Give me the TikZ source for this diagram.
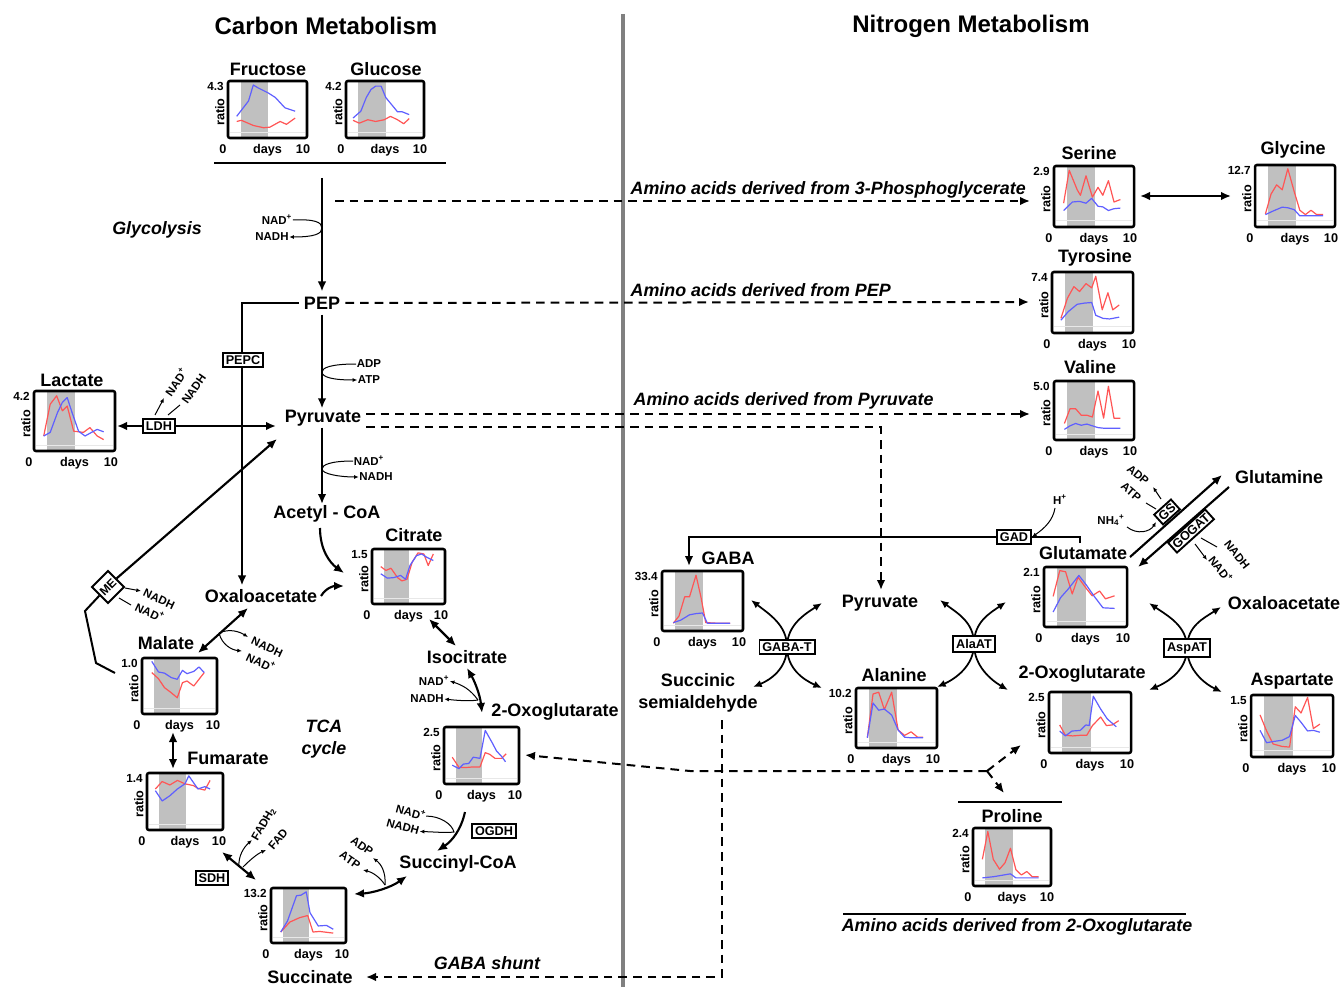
\documentclass[tikz,border=0pt]{standalone}
\usepackage{fontspec}
\setmainfont{Liberation Sans}
\usetikzlibrary{arrows.meta}
\definecolor{redc}{RGB}{255,85,85}
\definecolor{bluec}{RGB}{95,95,255}
\definecolor{bandc}{RGB}{192,192,192}
\definecolor{divc}{RGB}{128,128,128}
\tikzset{
 met/.style={font=\fontsize{13.5}{16}\selectfont\bfseries, inner sep=1pt},
 ttl/.style={font=\fontsize{18}{21}\selectfont\bfseries},
 itl/.style={font=\fontsize{13.4}{16}\selectfont\bfseries\itshape, inner sep=1pt},
 sml/.style={font=\fontsize{8.6}{10}\selectfont\bfseries, inner sep=0.3pt},
 enz/.style={draw, line width=1.4pt, fill=white, font=\fontsize{9.5}{11}\selectfont\bfseries, inner sep=2.2pt},
 axl/.style={font=\fontsize{9.5}{11}\selectfont\bfseries, inner sep=0pt},
 maxl/.style={font=\fontsize{8.8}{10}\selectfont\bfseries, inner sep=0pt},
 mainln/.style={line width=1.6pt},
 arr/.style={mainln, -{Latex[length=7.5pt,width=6.5pt]}},
 darr/.style={mainln, {Latex[length=7.5pt,width=6.5pt]}-{Latex[length=7.5pt,width=6.5pt]}},
 xarr/.style={line width=1.3pt, {Latex[length=6.5pt,width=5.5pt]}-{Latex[length=6.5pt,width=5.5pt]}},
 dsh/.style={line width=1.5pt, dash pattern=on 6.5pt off 4.5pt, -{Latex[length=7.5pt,width=6.5pt]}},
 thinarr/.style={line width=0.75pt, -{Latex[length=3.5pt,width=3pt]}},
 thinln/.style={line width=0.75pt},
 chartframe/.style={line width=1.9pt, rounded corners=1.5pt},
 redln/.style={redc, line width=0.9pt, line join=round},
 blueln/.style={bluec, line width=0.9pt, line join=round},
}
% #1 name, #2 x, #3 y (top), #4 w, #5 h, #6 max label, #7 red, #8 blue
\newcommand{\minichart}[8]{%
 \node[inner sep=0pt, outer sep=0pt, minimum width=#4*0.75pt, minimum height=#5*0.75pt, anchor=north west] (#1) at (#2,#3) {};
 \begin{scope}[shift={(#2,#3+#5)}, x={(#4,0)}, y={(0,-#5)}]
  \fill[bandc] (0.16,0) rectangle (0.51,1);
  \draw[gray!18, line width=0.6pt] (0.03,0.1) -- (0.97,0.1);
  \draw[redln] plot coordinates {#7};
  \draw[blueln] plot coordinates {#8};
  \draw[chartframe] (0,0) rectangle (1,1);
  \node[maxl, anchor=east, xshift=-3pt, yshift=-4pt] at (0,1) {#6};
  \node[axl, xshift=-2.5pt, yshift=-2pt, rotate=90, anchor=south] at (0,0.5) {ratio};
  \node[axl, anchor=base, xshift=-3.8pt, yshift=-11.8pt] at (0,0) {0};
  \node[axl, anchor=base, yshift=-11.8pt] at (0.5,0) {days};
  \node[axl, anchor=base, xshift=-3pt, yshift=-11.8pt] at (1,0) {10};
 \end{scope}}
\begin{document}
\begin{tikzpicture}[x=0.75pt,y=-0.75pt]
\useasboundingbox[fill=white] (0,0) rectangle (1341,987);

% ---------- titles and divider
\node[ttl] (tC) at (326,26) {Carbon Metabolism};
\node[ttl] (tN) at (971,26) {Nitrogen Metabolism};
\coordinate (divT) at (623,14);
\coordinate (divB) at (623,987);
\draw[line width=2.4pt, divc] (divT) -- (divB);

% ---------- charts
\minichart{fruC}{228}{81}{79}{57}{4.3}{(0.11,0.29) (0.17,0.31) (0.32,0.22) (0.45,0.18) (0.53,0.19) (0.66,0.29) (0.74,0.24) (0.85,0.35)}{(0.11,0.38) (0.26,0.65) (0.32,0.93) (0.38,0.88) (0.51,0.79) (0.60,0.71) (0.72,0.53) (0.85,0.47)}
\minichart{glcC}{346}{81}{78}{57}{4.2}{(0.09,0.31) (0.17,0.26) (0.28,0.32) (0.38,0.29) (0.49,0.32) (0.57,0.38) (0.66,0.32) (0.74,0.25) (0.81,0.34)}{(0.09,0.35) (0.19,0.47) (0.26,0.71) (0.32,0.85) (0.38,0.91) (0.45,0.91) (0.51,0.71) (0.66,0.46) (0.72,0.46) (0.81,0.41)}
\minichart{lacC}{34}{391}{81}{60}{4.2}{(0.12,0.25) (0.20,0.78) (0.28,0.92) (0.35,0.67) (0.41,0.75) (0.49,0.33) (0.61,0.31) (0.69,0.39) (0.78,0.25) (0.86,0.19)}{(0.12,0.25) (0.20,0.31) (0.29,0.64) (0.35,0.81) (0.41,0.89) (0.47,0.64) (0.55,0.33) (0.63,0.25) (0.71,0.31) (0.78,0.36) (0.86,0.32)}
\minichart{citC}{372}{549}{73}{55}{1.5}{(0.12,0.68) (0.19,0.61) (0.26,0.65) (0.35,0.48) (0.41,0.42) (0.48,0.45) (0.55,0.76) (0.63,0.93) (0.71,0.91) (0.77,0.70) (0.84,0.91)}{(0.12,0.55) (0.21,0.47) (0.30,0.48) (0.39,0.52) (0.46,0.45) (0.52,0.70) (0.61,0.88) (0.68,0.91) (0.75,0.85) (0.84,0.79)}
\minichart{malC}{142}{658}{75}{56}{1.0}{(0.13,0.74) (0.22,0.63) (0.30,0.47) (0.39,0.38) (0.47,0.29) (0.54,0.56) (0.60,0.59) (0.69,0.50) (0.76,0.62) (0.83,0.74)}{(0.13,0.94) (0.22,0.75) (0.30,0.73) (0.39,0.65) (0.47,0.62) (0.54,0.78) (0.60,0.72) (0.69,0.76) (0.76,0.84) (0.83,0.74)}
\minichart{fumC}{147}{773}{76}{57}{1.4}{(0.11,0.72) (0.20,0.85) (0.30,0.79) (0.40,0.87) (0.50,0.81) (0.61,0.78) (0.67,0.73) (0.76,0.70) (0.83,0.87)}{(0.11,0.69) (0.20,0.51) (0.30,0.60) (0.40,0.72) (0.50,0.81) (0.55,0.95) (0.67,0.72) (0.76,0.76) (0.83,0.72)}
\minichart{sucC}{271}{888}{75}{55}{13.2}{(0.13,0.20) (0.25,0.38) (0.38,0.46) (0.49,0.50) (0.56,0.20) (0.65,0.21) (0.83,0.18)}{(0.13,0.20) (0.22,0.40) (0.34,0.86) (0.40,0.87) (0.47,0.93) (0.52,0.55) (0.63,0.31) (0.74,0.32) (0.83,0.25)}
\minichart{ogtC}{444}{727}{75}{57}{2.5}{(0.11,0.47) (0.20,0.29) (0.30,0.29) (0.39,0.30) (0.48,0.30) (0.55,0.55) (0.61,0.52) (0.68,0.45) (0.77,0.45) (0.83,0.53)}{(0.11,0.33) (0.20,0.27) (0.26,0.35) (0.33,0.36) (0.39,0.47) (0.48,0.45) (0.55,0.94) (0.64,0.73) (0.70,0.58) (0.77,0.48) (0.82,0.39)}
\minichart{serC}{1054}{166}{80}{61}{2.9}{(0.12,0.39) (0.19,0.93) (0.29,0.61) (0.33,0.52) (0.40,0.84) (0.48,0.49) (0.55,0.65) (0.61,0.52) (0.68,0.76) (0.75,0.41) (0.83,0.45)}{(0.12,0.27) (0.23,0.41) (0.32,0.42) (0.40,0.39) (0.47,0.47) (0.55,0.34) (0.61,0.33) (0.68,0.27) (0.75,0.30) (0.83,0.31)}
\minichart{glyC}{1255}{165}{80}{62}{12.7}{(0.13,0.21) (0.20,0.53) (0.27,0.68) (0.34,0.60) (0.41,0.94) (0.49,0.57) (0.56,0.27) (0.63,0.20) (0.70,0.27) (0.77,0.20) (0.85,0.20)}{(0.13,0.20) (0.23,0.26) (0.34,0.32) (0.41,0.31) (0.49,0.28) (0.56,0.18) (0.63,0.18) (0.77,0.18) (0.85,0.18)}
\minichart{tyrC}{1052}{272}{81}{61}{7.4}{(0.11,0.24) (0.19,0.57) (0.27,0.76) (0.34,0.68) (0.42,0.81) (0.49,0.74) (0.54,0.93) (0.62,0.38) (0.69,0.66) (0.75,0.38) (0.83,0.46)}{(0.11,0.21) (0.20,0.35) (0.31,0.47) (0.40,0.49) (0.49,0.50) (0.54,0.29) (0.63,0.24) (0.71,0.23) (0.83,0.26)}
\minichart{valC}{1054}{381}{80}{59}{5.0}{(0.13,0.28) (0.20,0.53) (0.27,0.53) (0.34,0.42) (0.41,0.42) (0.48,0.39) (0.55,0.83) (0.62,0.37) (0.68,0.91) (0.75,0.37) (0.83,0.37)}{(0.13,0.18) (0.20,0.24) (0.27,0.28) (0.34,0.25) (0.41,0.27) (0.48,0.24) (0.55,0.21) (0.62,0.20) (0.83,0.20)}
\minichart{gabC}{662}{571}{81}{60}{33.4}{(0.14,0.13) (0.21,0.25) (0.28,0.57) (0.34,0.57) (0.42,0.93) (0.48,0.57) (0.54,0.14) (0.68,0.13) (0.84,0.13)}{(0.14,0.14) (0.23,0.18) (0.34,0.27) (0.42,0.29) (0.50,0.30) (0.56,0.13) (0.84,0.13)}
\minichart{alaC}{856}{688}{81}{60}{10.2}{(0.14,0.17) (0.21,0.90) (0.28,0.93) (0.35,0.64) (0.44,0.93) (0.52,0.30) (0.60,0.21) (0.68,0.27) (0.76,0.18) (0.83,0.18)}{(0.14,0.17) (0.21,0.75) (0.28,0.63) (0.35,0.65) (0.44,0.55) (0.52,0.30) (0.60,0.18) (0.68,0.17) (0.83,0.17)}
\minichart{gluC}{1044}{567}{83}{60}{2.1}{(0.11,0.51) (0.19,0.94) (0.26,0.92) (0.34,0.55) (0.41,0.83) (0.50,0.66) (0.58,0.52) (0.67,0.60) (0.74,0.47) (0.85,0.52)}{(0.11,0.25) (0.20,0.49) (0.29,0.63) (0.42,0.86) (0.51,0.70) (0.60,0.52) (0.71,0.32) (0.85,0.31)}
\minichart{ognC}{1049}{692}{82}{61}{2.5}{(0.13,0.46) (0.20,0.29) (0.29,0.28) (0.38,0.29) (0.46,0.29) (0.53,0.45) (0.63,0.59) (0.70,0.45) (0.77,0.46) (0.85,0.53)}{(0.13,0.36) (0.20,0.28) (0.28,0.36) (0.38,0.37) (0.45,0.46) (0.49,0.45) (0.54,0.93) (0.63,0.72) (0.71,0.56) (0.82,0.43)}
\minichart{aspC}{1251}{695}{82}{62}{1.5}{(0.11,0.68) (0.19,0.42) (0.27,0.21) (0.38,0.17) (0.47,0.16) (0.54,0.81) (0.61,0.71) (0.69,0.96) (0.76,0.46) (0.84,0.53)}{(0.11,0.43) (0.19,0.23) (0.27,0.25) (0.38,0.27) (0.47,0.33) (0.54,0.67) (0.61,0.56) (0.69,0.42) (0.76,0.43) (0.84,0.40)}
\minichart{proC}{973}{828}{78}{58}{2.4}{(0.12,0.46) (0.19,0.94) (0.26,0.46) (0.34,0.29) (0.41,0.40) (0.48,0.65) (0.55,0.28) (0.62,0.19) (0.69,0.25) (0.76,0.16) (0.84,0.16)}{(0.12,0.14) (0.26,0.16) (0.35,0.18) (0.48,0.21) (0.55,0.14) (0.84,0.14)}

% ---------- carbon metabolism labels
\node[met] (fru) at (268,69) {Fructose};
\node[met] (glc) at (386,69) {Glucose};
\node[met, outer sep=3pt] (pep) at (322,303) {PEP};
\node[met] (pyr) at (323,418) {Pyruvate};
\node[met] (acoa) at (327,514) {Acetyl - CoA};
\node[met] (lac) at (72,380) {Lactate};
\node[met] (cit) at (414,535) {Citrate};
\node[met, outer sep=2pt] (oaa) at (261,596) {Oxaloacetate};
\node[met] (mal) at (166,643) {Malate};
\node[met] (fum) at (228,758) {Fumarate};
\node[met] (iso) at (467,657) {Isocitrate};
\node[met] (ogt) at (555,712) {2-Oxoglutarate};
\node[met] (sca) at (458,864) {Succinyl-CoA};
\node[met] (suc) at (310,977) {Succinate};
\node[itl] (glyc) at (157,230) {Glycolysis};
\node[itl, align=center] (tca) at (324,739) {TCA\\cycle};
\node[itl] (gshunt) at (487,963) {GABA shunt};

% hexoses bar and glycolysis
\coordinate (hexL) at (214,163);
\coordinate (hexR) at (446,163);
\draw[line width=1.5pt] (hexL) -- (hexR);
\coordinate (glyS) at (322,178);
\draw[arr] (glyS) -- (pep.north);
\node[sml] (gn1) at (277,220) {NAD\textsuperscript{+}};
\node[sml] (gn2) at (272,237) {NADH};
\draw[thinarr] (gn1.east) .. controls (314,219) and (322,222) .. (322,228) .. controls (322,234) and (314,237) .. (gn2.east);

% PEP -> pyruvate
\draw[arr] (pep.south) -- (pep.south |- pyr.north);
\node[sml] (adp1) at (369,364) {ADP};
\node[sml] (atp1) at (369,380) {ATP};
\draw[thinarr] (adp1.west) .. controls (330,364) and (322,368) .. (322,372) .. controls (322,377) and (332,380) .. (atp1.west);

% PEPC
\coordinate (pepcT) at (242,303);
\draw[arr] (pep.west) -- (pepcT) -- (pepcT |- oaa.north);
\node[enz] (pepc) at (243,360) {PEPC};

% pyruvate -> acetyl-CoA
\draw[arr] (pyr.south -| pep.south) -- (pep.south |- acoa.north);
\node[sml] (an1) at (369,461) {NAD\textsuperscript{+}};
\node[sml] (an2) at (376,477) {NADH};
\draw[thinarr] (an1.west) .. controls (330,461) and (322,465) .. (322,469) .. controls (322,474) and (340,477) .. (an2.west);

% LDH
\node[enz] (ldh) at (159,426) {LDH};
\coordinate (ldhR) at (276,426);
\coordinate (ldhL) at (117,426);
\draw[arr] (ldh.east) -- (ldhR);
\draw[arr] (ldh.west) -- (ldhL);
\coordinate (l1a) at (155,415);
\coordinate (l1b) at (164,398);
\coordinate (l2a) at (168,415);
\coordinate (l2b) at (180,405);
\draw[thinarr] (l1a) -- (l1b);
\draw[thinln] (l2a) -- (l2b);
\node[sml, rotate=55] (ln1) at (176,382) {NAD\textsuperscript{+}};
\node[sml, rotate=55] (ln2) at (194,389) {NADH};

% acetyl-CoA / OAA -> citrate
\coordinate (acS) at (320,528);
\coordinate (acE) at (344,573);
\draw[arr] (acS) .. controls (320,550) and (330,563) .. (acE);
\coordinate (oaE) at (344,586);
\draw[arr] (oaa.east) .. controls (326,588) and (333,586) .. (oaE);

% ME
\node[draw, line width=1.4pt, fill=white, rotate=45, minimum width=17pt, minimum height=17pt, inner sep=0pt, font=\fontsize{9}{10}\selectfont\bfseries] (me) at (108,587) {ME};
\coordinate (meP) at (277,439);
\draw[arr] (me.east) -- (meP);
\coordinate (mk1) at (85,611);
\coordinate (mk2) at (96,663);
\coordinate (mk3) at (115,673);
\draw[line width=1.5pt] (me.west) -- (mk1) -- (mk2) -- (mk3);
\coordinate (mn1a) at (125,588);
\coordinate (mn1b) at (141,591);
\coordinate (mn2a) at (119,598);
\coordinate (mn2b) at (131,605);
\draw[thinarr] (mn1a) -- (mn1b);
\draw[thinln] (mn2a) -- (mn2b);
\node[sml, rotate=-25] (mnl1) at (159,599) {NADH};
\node[sml, rotate=-25] (mnl2) at (150,612) {NAD\textsuperscript{+}};

% malate <-> OAA
\coordinate (moA) at (248,608);
\coordinate (moB) at (198,653);
\draw[darr] (moA) -- (moB);
\coordinate (moc) at (219,633);
\coordinate (mo1) at (248,637);
\coordinate (mo2) at (242,651);
\draw[thinarr] (moc) .. controls (230,628) and (240,632) .. (mo1);
\draw[thinarr] (moc) .. controls (222,645) and (232,650) .. (mo2);
\node[sml, rotate=-25] (mol1) at (267,647) {NADH};
\node[sml, rotate=-25] (mol2) at (261,662) {NAD\textsuperscript{+}};

% malate <-> fumarate
\coordinate (mfA) at (173,732);
\coordinate (mfB) at (173,769);
\draw[darr] (mfA) -- (mfB);

% SDH
\coordinate (sdA) at (222,852);
\coordinate (sdB) at (256,880);
\draw[darr] (sdA) -- (sdB);
\node[enz] (sdh) at (212,878) {SDH};
\coordinate (sdc1) at (239,867);
\coordinate (sdc2) at (243,867);
\coordinate (sdf1) at (252,840);
\coordinate (sdf2) at (266,850);
\draw[thinarr] (sdc1) .. controls (238,856) and (244,847) .. (sdf1);
\draw[thinarr] (sdc2) .. controls (250,860) and (257,854) .. (sdf2);
\node[sml, rotate=60] (fadh) at (264,824) {FADH\textsubscript{2}};
\node[sml, rotate=50] (fad) at (278,839) {FAD};

% succinyl-CoA <-> succinate
\coordinate (ssA) at (407,876);
\coordinate (ssB) at (354,894);
\draw[darr] (ssA) .. controls (390,888) and (372,893) .. (ssB);
\coordinate (sac) at (385,885);
\coordinate (sa1) at (373,858);
\coordinate (sa2) at (363,870);
\draw[thinarr] (sac) .. controls (386,872) and (381,864) .. (sa1);
\draw[thinarr] (sac) .. controls (380,877) and (372,872) .. (sa2);
\node[sml, rotate=-35] (sadp) at (362,846) {ADP};
\node[sml, rotate=-35] (satp) at (350,860) {ATP};

% OGDH
\coordinate (ogA) at (465,812);
\coordinate (ogB) at (437,851);
\draw[arr] (ogA) .. controls (461,830) and (452,841) .. (ogB);
\node[enz] (ogdh) at (494,831) {OGDH};
\node[sml, rotate=-15] (on1) at (411,812) {NAD\textsuperscript{+}};
\node[sml, rotate=-15] (on2) at (403,827) {NADH};
\draw[thinarr] (on1.east) .. controls (440,816) and (452,824) .. (454,832) .. controls (446,833) and (436,832) .. (on2.east);

% citrate <-> isocitrate <-> 2-OG
\coordinate (ciA) at (429,619);
\coordinate (ciB) at (456,646);
\draw[darr] (ciA) -- (ciB);
\coordinate (ioA) at (467,668);
\coordinate (ioB) at (482,713);
\draw[darr] (ioA) .. controls (475,682) and (480,695) .. (ioB);
\node[sml] (in1) at (434,681) {NAD\textsuperscript{+}};
\node[sml] (in2) at (427,699) {NADH};
\coordinate (inc) at (478,700);
\draw[thinarr] (inc) .. controls (470,689) and (462,685) .. (in1.east);
\draw[thinarr] (inc) .. controls (472,701) and (462,701) .. (in2.east);

% ---------- long dashed connectors
\coordinate (pgS) at (335,201);
\coordinate (pgE) at (1030,201);
\draw[dsh] (pgS) -- (pgE);
\node[itl, anchor=west] (pglbl) at (629,190) {Amino acids derived from 3-Phosphoglycerate};
\coordinate (pepE) at (1029,302);
\draw[dsh] (pep.east) -- (pepE);
\node[itl, anchor=west] (peplbl) at (629,290) {Amino acids derived from PEP};
\coordinate (pyS1) at (366,414);
\coordinate (pyE1) at (1030,414);
\draw[dsh] (pyS1) -- (pyE1);
\node[itl, anchor=west] (pylbl) at (632,401) {Amino acids derived from Pyruvate};
\node[met] (pyrN) at (880,603) {Pyruvate};
\coordinate (pyS2) at (366,427);
\coordinate (pyK) at (881,427);
\coordinate (pyE2) at (881,590);
\draw[dsh] (pyS2) -- (pyK) -- (pyE2);

\coordinate (ogX) at (987,771);
\coordinate (ogK) at (690,771);
\coordinate (ogE) at (525,755);
\coordinate (ogU) at (1021,745);
\coordinate (ogD) at (1004,793);
\draw[dsh] (ogX) -- (ogK) -- (ogE);
\draw[dsh] (ogX) -- (ogU);
\draw[dsh] (ogX) -- (ogD);

\node[met, align=center] (ssa) at (698,693) {Succinic\\semialdehyde};
\coordinate (gsT) at (722,720);
\coordinate (gsK) at (722,977);
\coordinate (gsE) at (366,977);
\draw[dsh] (gsT) -- (gsK) -- (gsE);

% ---------- nitrogen metabolism labels
\node[met] (ser) at (1089,153) {Serine};
\node[met] (gly) at (1293,150) {Glycine};
\node[met] (tyr) at (1095,258) {Tyrosine};
\node[met] (val) at (1090,367) {Valine};
\node[met] (gaba) at (728,558) {GABA};
\node[met] (glu) at (1083,553) {Glutamate};
\node[met] (gln) at (1279,477) {Glutamine};
\node[met] (oaaN) at (1284,603) {Oxaloacetate};
\node[met] (ala) at (894,675) {Alanine};
\node[met] (ogN) at (1082,674) {2-Oxoglutarate};
\node[met] (asp) at (1292,681) {Aspartate};
\node[met] (pro) at (1012,816) {Proline};

\coordinate (sgA) at (1140,196);
\coordinate (sgB) at (1231,196);
\draw[darr] (sgA) -- (sgB);

% proline bars
\coordinate (prL) at (958,802);
\coordinate (prR) at (1062,802);
\draw[line width=1.5pt] (prL) -- (prR);
\coordinate (aoL) at (843,914);
\coordinate (aoR) at (1186,914);
\draw[line width=1.5pt] (aoL) -- (aoR);
\node[itl] (aolbl) at (1017,927) {Amino acids derived from 2-Oxoglutarate};

% GAD
\coordinate (gd1) at (1080,543);
\coordinate (gd2) at (1080,537);
\coordinate (gd3) at (689,537);
\coordinate (gd4) at (689,566);
\draw[arr] (gd1) -- (gd2) -- (gd3) -- (gd4);
\node[enz] (gad) at (1014,537) {GAD};
\node[sml] (hp) at (1060,500) {H\textsuperscript{+}};
\coordinate (hpS) at (1055,508);
\draw[thinarr] (hpS) .. controls (1053,520) and (1045,528) .. (gad.east);

% GS / GOGAT
\coordinate (l1s) at (1130,557);
\coordinate (l1e) at (1222,475);
\coordinate (l2s) at (1229,487);
\coordinate (l2e) at (1138,567);
\draw[arr] (l1s) -- (l1e);
\draw[arr] (l2s) -- (l2e);
\node[enz, rotate=42, inner sep=1.6pt] (gs) at (1167,512) {GS};
\node[enz, rotate=42, inner sep=1.6pt] (gogat) at (1191,531) {GOGAT};
\coordinate (gsa1) at (1161,499);
\coordinate (gsa2) at (1153,487);
\draw[thinarr] (gsa1) -- (gsa2);
\coordinate (gsb1) at (1146,503);
\coordinate (gsb2) at (1156,509);
\draw[thinln] (gsb1) -- (gsb2);
\node[sml, rotate=-40] (gsadp) at (1138,475) {ADP};
\node[sml, rotate=-40] (gsatp) at (1131,492) {ATP};
\node[sml] (nh4) at (1111,520) {NH\textsubscript{4}\textsuperscript{+}};
\coordinate (nhS) at (1127,527);
\coordinate (nhE) at (1156,522);
\draw[thinarr] (nhS) .. controls (1137,535) and (1150,532) .. (nhE);
\coordinate (goa1) at (1201,538);
\coordinate (goa2) at (1217,547);
\draw[thinln] (goa1) -- (goa2);
\coordinate (gob1) at (1195,544);
\coordinate (gob2) at (1207,560);
\draw[thinarr] (gob1) -- (gob2);
\node[sml, rotate=-52] (gonadh) at (1237,555) {NADH};
\node[sml, rotate=-52] (gonad) at (1221,569) {NAD\textsuperscript{+}};

% transaminase crosses
\coordinate (tG) at (787,647);
\draw[xarr] (751,600) .. controls (769,614) and (787,625) .. (tG) .. controls (787,669) and (804,680) .. (822,688);
\draw[xarr] (822,603) .. controls (805,614) and (787,625) .. (tG) .. controls (787,669) and (770,680) .. (753,687);
\node[enz] (gabat) at (tG) {GABA-T};
\coordinate (tA) at (974,644);
\draw[xarr] (940,600) .. controls (957,613) and (974,622) .. (tA) .. controls (974,666) and (991,680) .. (1008,690);
\draw[xarr] (1006,602) .. controls (990,613) and (974,622) .. (tA) .. controls (974,666) and (955,679) .. (937,687);
\node[enz] (alaat) at (tA) {AlaAT};
\coordinate (tS) at (1187,648);
\draw[xarr] (1149,603) .. controls (1168,616) and (1187,626) .. (tS) .. controls (1187,670) and (1205,684) .. (1222,692);
\draw[xarr] (1221,607) .. controls (1204,618) and (1187,626) .. (tS) .. controls (1187,670) and (1168,682) .. (1149,690);
\node[enz] (aspat) at (tS) {AspAT};

\end{tikzpicture}
\end{document}
